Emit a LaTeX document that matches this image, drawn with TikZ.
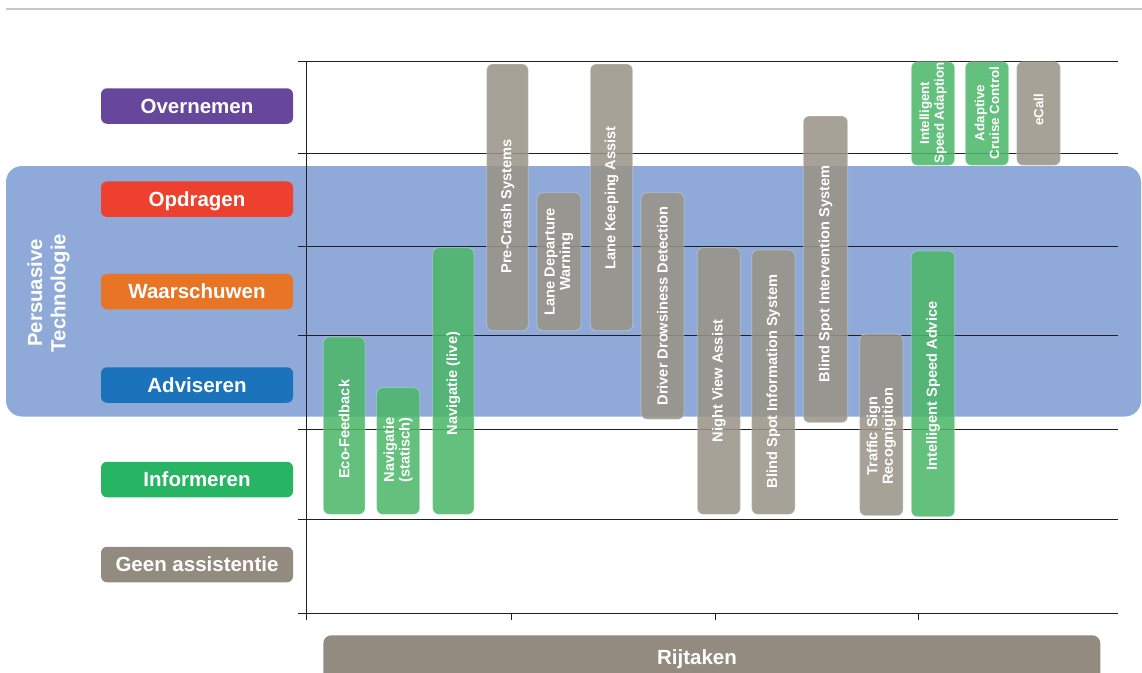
\documentclass[tikz,border=0pt]{standalone}
\usepackage{fontspec}
\setmainfont{Liberation Sans}
\usepackage{xcolor}
\usepackage{tikz}

\definecolor{overnemen}{RGB}{102,71,156}
\definecolor{opdragen}{RGB}{238,64,46}
\definecolor{waarschuwen}{RGB}{232,116,38}
\definecolor{adviseren}{RGB}{26,115,187}
\definecolor{informeren}{RGB}{39,180,99}
\definecolor{geen}{RGB}{148,139,128}
\definecolor{persuasief}{RGB}{143,170,217}
\definecolor{sysgrijs}{RGB}{153,147,134}
\definecolor{sysgroen}{RGB}{75,183,104}
\definecolor{lijn}{RGB}{35,31,32}

\tikzset{
  niveau/.style={rounded corners=6pt,minimum width=192pt,minimum height=35.5pt,
    inner sep=0pt,text height=14.7pt,text depth=0pt,text=white,
    font=\fontsize{20.5}{24}\selectfont\bfseries},
  grijs/.style={fill=sysgrijs,fill opacity=0.86,draw=white,draw opacity=0.3,
    line width=0.8pt,rounded corners=6pt},
  groen/.style={fill=sysgroen,fill opacity=0.86,draw=white,draw opacity=0.3,
    line width=0.8pt,rounded corners=6pt},
  systeem/.style={rotate=90,text=white,align=center,inner sep=0pt,
    font=\fontsize{14.6}{15.5}\selectfont\bfseries},
  klein/.style={font=\fontsize{13.3}{14.8}\selectfont\bfseries},
  as/.style={lijn,line width=1pt}
}

\begin{document}
\begin{tikzpicture}[x=1pt,y=-1pt]
\clip(0,0)rectangle(1142,672);
\draw[line width=2pt,black!22](6,9)--(1142,9);
% persuasive technologie band
\fill[persuasief,rounded corners=16pt](6,166)rectangle(1141,416.5);
\node[rotate=90,text=white,align=center,inner sep=0pt,
  font=\fontsize{20.3}{23.4}\selectfont\bfseries] (persuasief) at (48.5,293) {Persuasive\\Technologie};
% assen
\draw[as](298,61)--(1118,61)
(298,153)--(1118,153)
(298,246)--(1118,246)
(298,335)--(1118,335)
(298,429)--(1118,429)
(298,519)--(1118,519)
(298,613)--(1118,613);
\draw[as](306,61)--(306,620)
(511,613)--(511,620)
(715,613)--(715,620)
(918,613)--(918,620);
% niveaus
\node[niveau,fill=overnemen] (overnemen) at (197,106) {Overnemen};
\node[niveau,fill=opdragen] (opdragen) at (197,199.2) {Opdragen};
\node[niveau,fill=waarschuwen] (waarschuwen) at (197,291.5) {Waarschuwen};
\node[niveau,fill=adviseren] (adviseren) at (197,385) {Adviseren};
\node[niveau,fill=informeren] (informeren) at (197,479.5) {Informeren};
\node[niveau,fill=geen] (geen) at (197,564.5) {Geen assistentie};
% systemen
\draw[groen](323.3,337)rectangle(365,514.3);
\draw[groen](376.7,387.7)rectangle(419.7,514.3);
\draw[groen](432.7,247.7)rectangle(474,514.3);
\draw[grijs](486.7,64)rectangle(528.3,330.7);
\draw[grijs](537,192.7)rectangle(581,330.7);
\draw[grijs](590.3,64)rectangle(632.7,330.7);
\draw[grijs](641,192.7)rectangle(684,419.3);
\draw[grijs](697.3,247.7)rectangle(740.3,514.3);
\draw[grijs](751.7,250)rectangle(795,514.3);
\draw[grijs](803.3,116)rectangle(847.7,422.7);
\draw[grijs](859.7,334)rectangle(903,515.7);
\draw[groen](911.3,251)rectangle(954.7,516.7);
\draw[groen](911.3,61.7)rectangle(954.7,165.3);
\draw[groen](965.3,61.7)rectangle(1008.7,165.3);
\draw[grijs](1016.7,61.7)rectangle(1060.3,165.3);
\node[systeem] (eco) at (344.2,429.3) {Eco-Feedback};
\node[systeem] (navstatisch) at (398.2,450) {Navigatie\\(statisch)};
\node[systeem] (navlive) at (453.4,383.5) {Navigatie (live)};
\node[systeem] (precrash) at (507.5,206.5) {Pre-Crash Systems};
\node[systeem] (ldw) at (559,261.7) {Lane Departure\\Warning};
\node[systeem] (lka) at (611.5,198) {Lane Keeping Assist};
\node[systeem] (dds) at (662.5,306) {Driver Drowsiness Detection};
\node[systeem] (nva) at (718.8,381) {Night View Assist};
\node[systeem] (bsis) at (773.3,381.5) {Blind Spot Information System};
\node[systeem] (bsint) at (825.5,273.7) {Blind Spot Intervention System};
\node[systeem] (tsr) at (881.3,436) {Traffic Sign\\Recognigition};
\node[systeem] (isadvies) at (933,386) {Intelligent Speed Advice};
\node[systeem,klein] (isa) at (933,113) {Intelligent\\Speed Adaption};
\node[systeem,klein] (acc) at (987,113) {Adaptive\\Cruise Control};
\node[systeem,klein] (ecall) at (1038.5,110) {eCall};
% rijtaken
\fill[geen,rounded corners=8pt](323.3,635.3)rectangle(1100.3,690);
\node[text=white,text height=14.7pt,text depth=0pt,inner sep=0pt,
  font=\fontsize{20.5}{24}\selectfont\bfseries] (rijtaken) at (697,656.7) {Rijtaken};
\end{tikzpicture}
\end{document}
